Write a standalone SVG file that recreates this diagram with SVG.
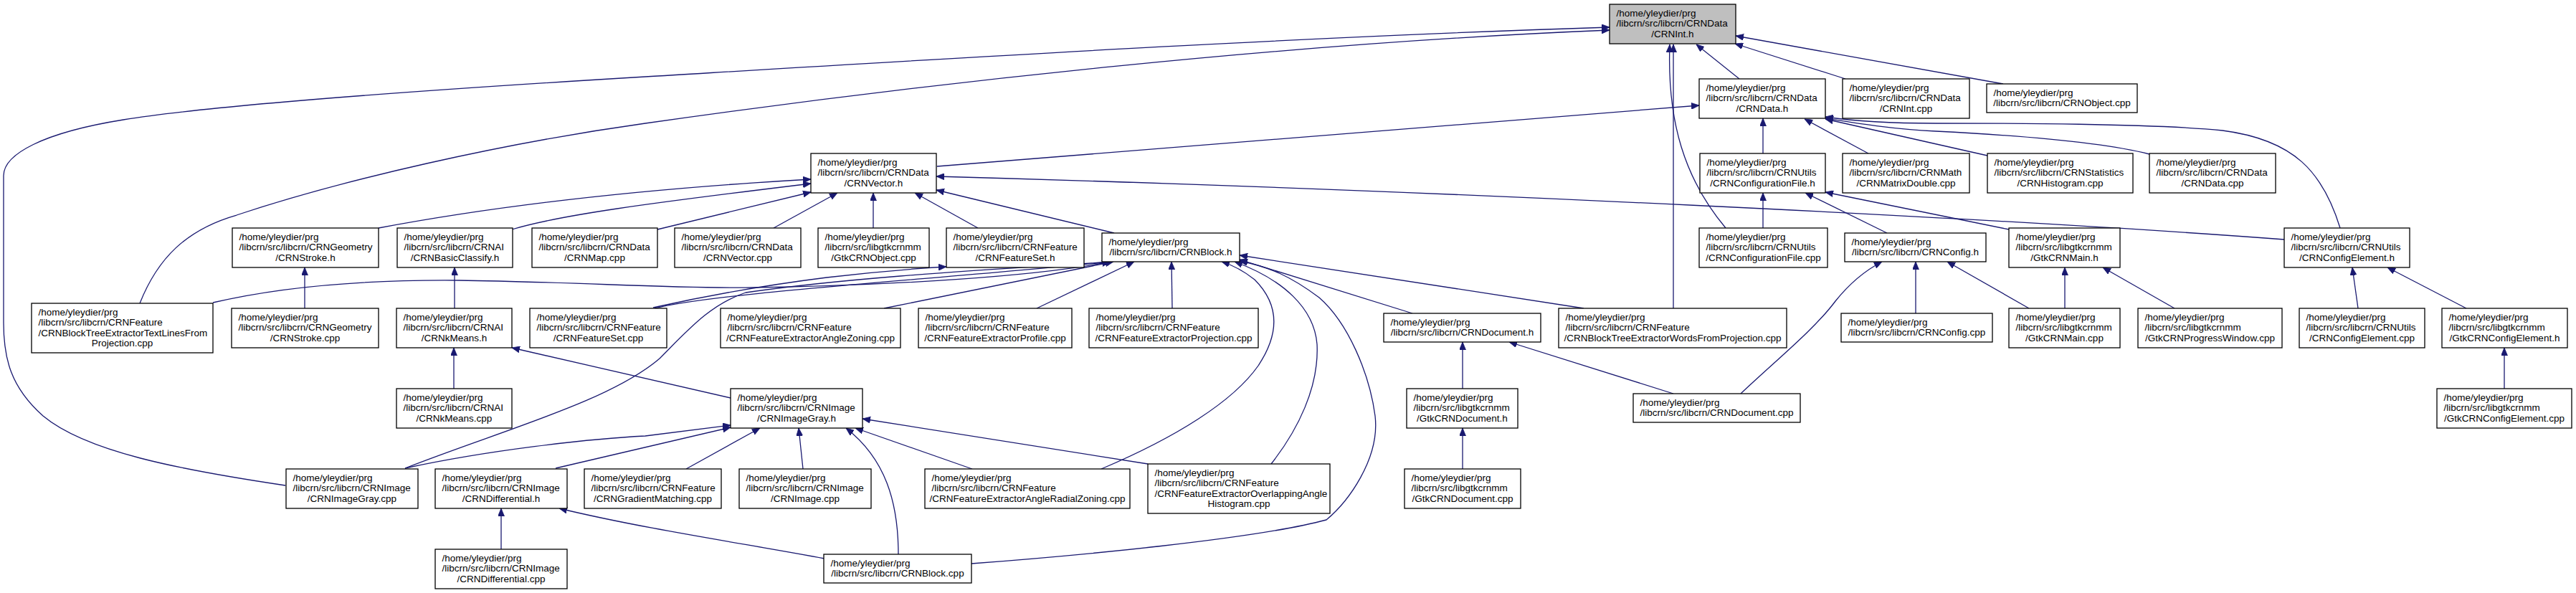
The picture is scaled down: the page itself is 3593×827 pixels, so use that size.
<svg xmlns="http://www.w3.org/2000/svg" width="3593" height="827" viewBox="0 0 3593 827">
<style>
.node rect{fill:#fff;stroke:#000;stroke-width:1.3}
.node rect.main{fill:#bfbfbf}
.node text{font-family:"Liberation Sans",Arial,Helvetica,sans-serif;font-size:13.5px;fill:#000}
.node text.c{text-anchor:middle}
.edges path{fill:none;stroke:#191970;stroke-width:1.3;marker-end:url(#ah)}
</style>
<defs>
<marker id="ah" markerUnits="userSpaceOnUse" markerWidth="11" markerHeight="9" viewBox="0 0 11 9" refX="11" refY="4.5" orient="auto">
<path d="M0,0 L11,4.5 L0,9 z" fill="#191970" stroke="#191970" stroke-width="0.8"/>
</marker>
</defs>
<rect x="0" y="0" width="3593" height="827" fill="#fff"/>
<g id="edges" class="edges">
<path d="M2426,110 L2366,62"/>
<path d="M2574,110 L2420,61"/>
<path d="M2794,117 L2421,50"/>
<path d="M2407,318 C2350,250 2325,170 2329,62"/>
<path d="M2334,430 L2334,62"/>
<path d="M195,423 C220,360 260,320 330,300 C480,250 700,200 900,172 C1300,115 1800,60 2245,42"/>
<path d="M398,677 C250,655 120,630 60,580 C15,540 5,500 5,450 L5,245 C5,215 60,185 172,167 C300,146 600,125 900,107 C1350,80 1800,52 2245,38"/>
<path d="M1307,232 L2370,147"/>
<path d="M2459,214 L2459,165"/>
<path d="M2606,214 L2517,166"/>
<path d="M3264,318 C3240,240 3200,195 3100,182 C3000,172 2800,172 2700,172 C2620,172 2580,168 2546,163"/>
<path d="M2998,215 C2920,195 2780,187 2700,183 C2640,180 2590,172 2546,165"/>
<path d="M2772,217 L2546,166"/>
<path d="M2459,318 L2459,269"/>
<path d="M2632,325 L2518,269"/>
<path d="M2802,320 L2546,268"/>
<path d="M2672,437 L2672,365"/>
<path d="M2428,549 C2480,500 2530,460 2560,420 C2580,395 2600,378 2625,365"/>
<path d="M2830,430 L2716,365"/>
<path d="M2880,430 L2880,373"/>
<path d="M3033,430 L2933,373"/>
<path d="M3289,430 L3281,373"/>
<path d="M3440,430 L3330,373"/>
<path d="M3493,542 L3493,485"/>
<path d="M3186,334 C2800,305 2000,265 1306,246"/>
<path d="M528,318 C650,295 850,266 1131,250"/>
<path d="M714,320 C780,300 900,284 1131,256"/>
<path d="M917,320 L1131,268"/>
<path d="M1079,318 L1168,269"/>
<path d="M1218,318 L1218,269"/>
<path d="M1364,318 L1276,269"/>
<path d="M1554,325 L1306,265"/>
<path d="M425,430 L425,373"/>
<path d="M634,430 L634,373"/>
<path d="M633,542 L633,485"/>
<path d="M1019,555 L714,485"/>
<path d="M297,422 C400,398 520,390 640,391 C800,393 950,403 1050,401 C1250,398 1450,385 1548,365"/>
<path d="M911,429 C960,418 1050,400 1153,387 C1220,379 1270,375 1320,372"/>
<path d="M913,430 C1000,408 1300,390 1550,365"/>
<path d="M565,653 C700,600 850,560 920,500 C960,460 990,425 1040,408 C1200,385 1400,375 1552,365"/>
<path d="M1233,430 L1553,365"/>
<path d="M1446,430 L1582,365"/>
<path d="M1635,430 L1634,365"/>
<path d="M1536,654 C1640,610 1720,560 1755,510 C1785,465 1785,425 1750,390 C1735,378 1720,370 1704,365"/>
<path d="M1773,647 C1810,600 1840,540 1837,480 C1833,430 1790,390 1722,365"/>
<path d="M1355,786 C1500,775 1750,752 1850,725 C1880,700 1925,640 1918,580 C1910,520 1880,450 1840,415 C1800,385 1770,372 1729,364"/>
<path d="M1970,437 L1729,362"/>
<path d="M2209,430 L1729,356"/>
<path d="M2040,542 L2040,477"/>
<path d="M2334,549 L2105,477"/>
<path d="M2040,654 L2040,597"/>
<path d="M565,653 C680,628 820,612 900,608 L1019,593"/>
<path d="M775,653 L1019,596"/>
<path d="M957,654 L1060,597"/>
<path d="M1120,654 L1114,597"/>
<path d="M1253,773 C1253,700 1235,640 1180,597"/>
<path d="M1356,654 L1193,597"/>
<path d="M1601,647 L1203,584"/>
<path d="M1150,779 C1050,760 900,738 780,709"/>
<path d="M699,766 L699,709"/>
</g>
<g id="n_CRNInt_h" class="node"><rect class="main" x="2245" y="6" width="176" height="55"/><text x="2254.5" y="23">/home/yleydier/prg</text><text x="2254.5" y="37.3">/libcrn/src/libcrn/CRNData</text><text class="c" x="2333" y="51.6">/CRNInt.h</text></g>
<g id="n_CRNData_h" class="node"><rect x="2370" y="110" width="176" height="55"/><text x="2379.5" y="127">/home/yleydier/prg</text><text x="2379.5" y="141.3">/libcrn/src/libcrn/CRNData</text><text class="c" x="2458" y="155.6">/CRNData.h</text></g>
<g id="n_CRNInt_cpp" class="node"><rect x="2570" y="110" width="177" height="55"/><text x="2579.5" y="127">/home/yleydier/prg</text><text x="2579.5" y="141.3">/libcrn/src/libcrn/CRNData</text><text class="c" x="2658.5" y="155.6">/CRNInt.cpp</text></g>
<g id="n_CRNObject_cpp" class="node"><rect x="2771" y="117" width="210" height="40"/><text x="2780.5" y="134">/home/yleydier/prg</text><text class="c" x="2876" y="148.3">/libcrn/src/libcrn/CRNObject.cpp</text></g>
<g id="n_CRNVector_h" class="node"><rect x="1131" y="214" width="175" height="55"/><text x="1140.5" y="231">/home/yleydier/prg</text><text x="1140.5" y="245.3">/libcrn/src/libcrn/CRNData</text><text class="c" x="1218.5" y="259.6">/CRNVector.h</text></g>
<g id="n_CRNConfigurationFile_h" class="node"><rect x="2371" y="214" width="175" height="55"/><text x="2380.5" y="231">/home/yleydier/prg</text><text x="2380.5" y="245.3">/libcrn/src/libcrn/CRNUtils</text><text class="c" x="2458.5" y="259.6">/CRNConfigurationFile.h</text></g>
<g id="n_CRNMatrixDouble_cpp" class="node"><rect x="2570" y="214" width="177" height="55"/><text x="2579.5" y="231">/home/yleydier/prg</text><text x="2579.5" y="245.3">/libcrn/src/libcrn/CRNMath</text><text class="c" x="2658.5" y="259.6">/CRNMatrixDouble.cpp</text></g>
<g id="n_CRNHistogram_cpp" class="node"><rect x="2772" y="214" width="203" height="55"/><text x="2781.5" y="231">/home/yleydier/prg</text><text x="2781.5" y="245.3">/libcrn/src/libcrn/CRNStatistics</text><text class="c" x="2873.5" y="259.6">/CRNHistogram.cpp</text></g>
<g id="n_CRNData_cpp" class="node"><rect x="2998" y="214" width="176" height="55"/><text x="3007.5" y="231">/home/yleydier/prg</text><text x="3007.5" y="245.3">/libcrn/src/libcrn/CRNData</text><text class="c" x="3086" y="259.6">/CRNData.cpp</text></g>
<g id="n_CRNStroke_h" class="node"><rect x="324" y="318" width="204" height="55"/><text x="333.5" y="335">/home/yleydier/prg</text><text x="333.5" y="349.3">/libcrn/src/libcrn/CRNGeometry</text><text class="c" x="426" y="363.6">/CRNStroke.h</text></g>
<g id="n_CRNBasicClassify_h" class="node"><rect x="554" y="318" width="161" height="55"/><text x="563.5" y="335">/home/yleydier/prg</text><text x="563.5" y="349.3">/libcrn/src/libcrn/CRNAI</text><text class="c" x="634.5" y="363.6">/CRNBasicClassify.h</text></g>
<g id="n_CRNMap_cpp" class="node"><rect x="742" y="318" width="175" height="55"/><text x="751.5" y="335">/home/yleydier/prg</text><text x="751.5" y="349.3">/libcrn/src/libcrn/CRNData</text><text class="c" x="829.5" y="363.6">/CRNMap.cpp</text></g>
<g id="n_CRNVector_cpp" class="node"><rect x="941" y="318" width="176" height="55"/><text x="950.5" y="335">/home/yleydier/prg</text><text x="950.5" y="349.3">/libcrn/src/libcrn/CRNData</text><text class="c" x="1029" y="363.6">/CRNVector.cpp</text></g>
<g id="n_GtkCRNObject_cpp" class="node"><rect x="1141" y="318" width="155" height="55"/><text x="1150.5" y="335">/home/yleydier/prg</text><text x="1150.5" y="349.3">/libcrn/src/libgtkcrnmm</text><text class="c" x="1218.5" y="363.6">/GtkCRNObject.cpp</text></g>
<g id="n_CRNFeatureSet_h" class="node"><rect x="1320" y="318" width="192" height="55"/><text x="1329.5" y="335">/home/yleydier/prg</text><text x="1329.5" y="349.3">/libcrn/src/libcrn/CRNFeature</text><text class="c" x="1416" y="363.6">/CRNFeatureSet.h</text></g>
<g id="n_CRNBlock_h" class="node"><rect x="1537" y="325" width="192" height="40"/><text x="1546.5" y="342">/home/yleydier/prg</text><text class="c" x="1633" y="356.3">/libcrn/src/libcrn/CRNBlock.h</text></g>
<g id="n_CRNConfigurationFile_cpp" class="node"><rect x="2370" y="318" width="179" height="55"/><text x="2379.5" y="335">/home/yleydier/prg</text><text x="2379.5" y="349.3">/libcrn/src/libcrn/CRNUtils</text><text class="c" x="2459.5" y="363.6">/CRNConfigurationFile.cpp</text></g>
<g id="n_CRNConfig_h" class="node"><rect x="2573" y="325" width="197" height="40"/><text x="2582.5" y="342">/home/yleydier/prg</text><text class="c" x="2671.5" y="356.3">/libcrn/src/libcrn/CRNConfig.h</text></g>
<g id="n_GtkCRNMain_h" class="node"><rect x="2802" y="318" width="155" height="55"/><text x="2811.5" y="335">/home/yleydier/prg</text><text x="2811.5" y="349.3">/libcrn/src/libgtkcrnmm</text><text class="c" x="2879.5" y="363.6">/GtkCRNMain.h</text></g>
<g id="n_CRNConfigElement_h" class="node"><rect x="3186" y="318" width="175" height="55"/><text x="3195.5" y="335">/home/yleydier/prg</text><text x="3195.5" y="349.3">/libcrn/src/libcrn/CRNUtils</text><text class="c" x="3273.5" y="363.6">/CRNConfigElement.h</text></g>
<g id="n_CRNBlockTreeExtractorTextLinesFromProjection_cpp" class="node"><rect x="44" y="423" width="253" height="69"/><text x="53.5" y="440">/home/yleydier/prg</text><text x="53.5" y="454.3">/libcrn/src/libcrn/CRNFeature</text><text x="53.5" y="468.6">/CRNBlockTreeExtractorTextLinesFrom</text><text class="c" x="170.5" y="482.9">Projection.cpp</text></g>
<g id="n_CRNStroke_cpp" class="node"><rect x="323" y="430" width="205" height="55"/><text x="332.5" y="447">/home/yleydier/prg</text><text x="332.5" y="461.3">/libcrn/src/libcrn/CRNGeometry</text><text class="c" x="425.5" y="475.6">/CRNStroke.cpp</text></g>
<g id="n_CRNkMeans_h" class="node"><rect x="553" y="430" width="161" height="55"/><text x="562.5" y="447">/home/yleydier/prg</text><text x="562.5" y="461.3">/libcrn/src/libcrn/CRNAI</text><text class="c" x="633.5" y="475.6">/CRNkMeans.h</text></g>
<g id="n_CRNFeatureSet_cpp" class="node"><rect x="739" y="430" width="191" height="55"/><text x="748.5" y="447">/home/yleydier/prg</text><text x="748.5" y="461.3">/libcrn/src/libcrn/CRNFeature</text><text class="c" x="834.5" y="475.6">/CRNFeatureSet.cpp</text></g>
<g id="n_CRNFeatureExtractorAngleZoning_cpp" class="node"><rect x="1005" y="430" width="251" height="55"/><text x="1014.5" y="447">/home/yleydier/prg</text><text x="1014.5" y="461.3">/libcrn/src/libcrn/CRNFeature</text><text class="c" x="1130.5" y="475.6">/CRNFeatureExtractorAngleZoning.cpp</text></g>
<g id="n_CRNFeatureExtractorProfile_cpp" class="node"><rect x="1281" y="430" width="214" height="55"/><text x="1290.5" y="447">/home/yleydier/prg</text><text x="1290.5" y="461.3">/libcrn/src/libcrn/CRNFeature</text><text class="c" x="1388" y="475.6">/CRNFeatureExtractorProfile.cpp</text></g>
<g id="n_CRNFeatureExtractorProjection_cpp" class="node"><rect x="1519" y="430" width="236" height="55"/><text x="1528.5" y="447">/home/yleydier/prg</text><text x="1528.5" y="461.3">/libcrn/src/libcrn/CRNFeature</text><text class="c" x="1637" y="475.6">/CRNFeatureExtractorProjection.cpp</text></g>
<g id="n_CRNDocument_h" class="node"><rect x="1930" y="437" width="219" height="40"/><text x="1939.5" y="454">/home/yleydier/prg</text><text class="c" x="2039.5" y="468.3">/libcrn/src/libcrn/CRNDocument.h</text></g>
<g id="n_CRNBlockTreeExtractorWordsFromProjection_cpp" class="node"><rect x="2174" y="430" width="318" height="55"/><text x="2183.5" y="447">/home/yleydier/prg</text><text x="2183.5" y="461.3">/libcrn/src/libcrn/CRNFeature</text><text class="c" x="2333" y="475.6">/CRNBlockTreeExtractorWordsFromProjection.cpp</text></g>
<g id="n_CRNConfig_cpp" class="node"><rect x="2568" y="437" width="211" height="40"/><text x="2577.5" y="454">/home/yleydier/prg</text><text class="c" x="2673.5" y="468.3">/libcrn/src/libcrn/CRNConfig.cpp</text></g>
<g id="n_GtkCRNMain_cpp" class="node"><rect x="2802" y="430" width="155" height="55"/><text x="2811.5" y="447">/home/yleydier/prg</text><text x="2811.5" y="461.3">/libcrn/src/libgtkcrnmm</text><text class="c" x="2879.5" y="475.6">/GtkCRNMain.cpp</text></g>
<g id="n_GtkCRNProgressWindow_cpp" class="node"><rect x="2982" y="430" width="201" height="55"/><text x="2991.5" y="447">/home/yleydier/prg</text><text x="2991.5" y="461.3">/libcrn/src/libgtkcrnmm</text><text class="c" x="3082.5" y="475.6">/GtkCRNProgressWindow.cpp</text></g>
<g id="n_CRNConfigElement_cpp" class="node"><rect x="3207" y="430" width="175" height="55"/><text x="3216.5" y="447">/home/yleydier/prg</text><text x="3216.5" y="461.3">/libcrn/src/libcrn/CRNUtils</text><text class="c" x="3294.5" y="475.6">/CRNConfigElement.cpp</text></g>
<g id="n_GtkCRNConfigElement_h" class="node"><rect x="3406" y="430" width="175" height="55"/><text x="3415.5" y="447">/home/yleydier/prg</text><text x="3415.5" y="461.3">/libcrn/src/libgtkcrnmm</text><text class="c" x="3493.5" y="475.6">/GtkCRNConfigElement.h</text></g>
<g id="n_CRNkMeans_cpp" class="node"><rect x="553" y="542" width="161" height="55"/><text x="562.5" y="559">/home/yleydier/prg</text><text x="562.5" y="573.3">/libcrn/src/libcrn/CRNAI</text><text class="c" x="633.5" y="587.6">/CRNkMeans.cpp</text></g>
<g id="n_CRNImageGray_h" class="node"><rect x="1019" y="542" width="184" height="55"/><text x="1028.5" y="559">/home/yleydier/prg</text><text x="1028.5" y="573.3">/libcrn/src/libcrn/CRNImage</text><text class="c" x="1111" y="587.6">/CRNImageGray.h</text></g>
<g id="n_GtkCRNDocument_h" class="node"><rect x="1962" y="542" width="155" height="55"/><text x="1971.5" y="559">/home/yleydier/prg</text><text x="1971.5" y="573.3">/libcrn/src/libgtkcrnmm</text><text class="c" x="2039.5" y="587.6">/GtkCRNDocument.h</text></g>
<g id="n_CRNDocument_cpp" class="node"><rect x="2278" y="549" width="233" height="40"/><text x="2287.5" y="566">/home/yleydier/prg</text><text class="c" x="2394.5" y="580.3">/libcrn/src/libcrn/CRNDocument.cpp</text></g>
<g id="n_GtkCRNConfigElement_cpp" class="node"><rect x="3399" y="542" width="188" height="55"/><text x="3408.5" y="559">/home/yleydier/prg</text><text x="3408.5" y="573.3">/libcrn/src/libgtkcrnmm</text><text class="c" x="3493" y="587.6">/GtkCRNConfigElement.cpp</text></g>
<g id="n_CRNImageGray_cpp" class="node"><rect x="399" y="654" width="184" height="55"/><text x="408.5" y="671">/home/yleydier/prg</text><text x="408.5" y="685.3">/libcrn/src/libcrn/CRNImage</text><text class="c" x="491" y="699.6">/CRNImageGray.cpp</text></g>
<g id="n_CRNDifferential_h" class="node"><rect x="607" y="654" width="184" height="55"/><text x="616.5" y="671">/home/yleydier/prg</text><text x="616.5" y="685.3">/libcrn/src/libcrn/CRNImage</text><text class="c" x="699" y="699.6">/CRNDifferential.h</text></g>
<g id="n_CRNGradientMatching_cpp" class="node"><rect x="815" y="654" width="191" height="55"/><text x="824.5" y="671">/home/yleydier/prg</text><text x="824.5" y="685.3">/libcrn/src/libcrn/CRNFeature</text><text class="c" x="910.5" y="699.6">/CRNGradientMatching.cpp</text></g>
<g id="n_CRNImage_cpp" class="node"><rect x="1031" y="654" width="184" height="55"/><text x="1040.5" y="671">/home/yleydier/prg</text><text x="1040.5" y="685.3">/libcrn/src/libcrn/CRNImage</text><text class="c" x="1123" y="699.6">/CRNImage.cpp</text></g>
<g id="n_CRNFeatureExtractorAngleRadialZoning_cpp" class="node"><rect x="1290" y="654" width="286" height="55"/><text x="1299.5" y="671">/home/yleydier/prg</text><text x="1299.5" y="685.3">/libcrn/src/libcrn/CRNFeature</text><text class="c" x="1433" y="699.6">/CRNFeatureExtractorAngleRadialZoning.cpp</text></g>
<g id="n_CRNFeatureExtractorOverlappingAngleHistogram_cpp" class="node"><rect x="1601" y="647" width="254" height="69"/><text x="1610.5" y="664">/home/yleydier/prg</text><text x="1610.5" y="678.3">/libcrn/src/libcrn/CRNFeature</text><text x="1610.5" y="692.6">/CRNFeatureExtractorOverlappingAngle</text><text class="c" x="1728" y="706.9">Histogram.cpp</text></g>
<g id="n_GtkCRNDocument_cpp" class="node"><rect x="1959" y="654" width="162" height="55"/><text x="1968.5" y="671">/home/yleydier/prg</text><text x="1968.5" y="685.3">/libcrn/src/libgtkcrnmm</text><text class="c" x="2040" y="699.6">/GtkCRNDocument.cpp</text></g>
<g id="n_CRNDifferential_cpp" class="node"><rect x="607" y="766" width="184" height="55"/><text x="616.5" y="783">/home/yleydier/prg</text><text x="616.5" y="797.3">/libcrn/src/libcrn/CRNImage</text><text class="c" x="699" y="811.6">/CRNDifferential.cpp</text></g>
<g id="n_CRNBlock_cpp" class="node"><rect x="1149" y="773" width="206" height="40"/><text x="1158.5" y="790">/home/yleydier/prg</text><text class="c" x="1252" y="804.3">/libcrn/src/libcrn/CRNBlock.cpp</text></g>
</svg>
